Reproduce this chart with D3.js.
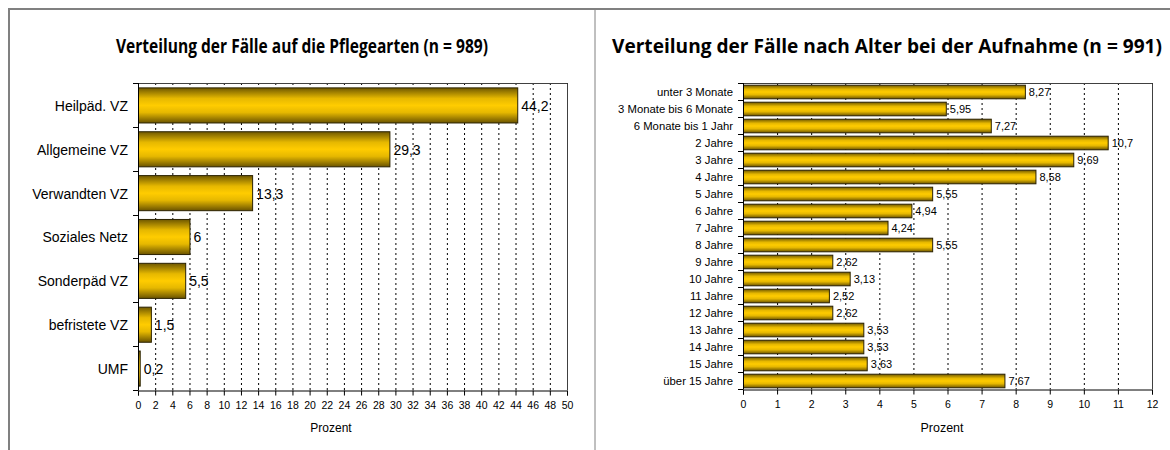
<!DOCTYPE html>
<html>
<head>
<meta charset="utf-8">
<script src="https://cdn.jsdelivr.net/npm/d3@7"></script>
<style>
  body { margin: 0; background: #fff; }
  svg { display: block; }
  text { font-family: "Liberation Sans", Arial, sans-serif; fill: #000; }
  .title { font-family: "Open Sans", "Noto Sans", sans-serif; font-weight: bold; }
</style>
</head>
<body>
<svg width="1170" height="450"></svg>
<script>
// Pflegearten
const careTypes = ['Heilpäd. VZ', 'Allgemeine VZ', 'Verwandten VZ', 'Soziales Netz', 'Sonderpäd VZ', 'befristete VZ', 'UMF'];
const careShares = [44.2, 29.3, 13.3, 6, 5.5, 1.5, 0.2];
const careTicks = d3.range(0, 51, 2);

// Alter bei Aufnahme
const ageGroups = ['unter 3 Monate', '3 Monate bis 6 Monate', '6 Monate bis 1 Jahr', '2 Jahre', '3 Jahre', '4 Jahre',
    '5 Jahre', '6 Jahre', '7 Jahre', '8 Jahre', '9 Jahre', '10 Jahre', '11 Jahre', '12 Jahre', '13 Jahre',
    '14 Jahre', '15 Jahre', 'über 15 Jahre'];
const ageShares = [8.27, 5.95, 7.27, 10.7, 9.69, 8.58, 5.55, 4.94, 4.24, 5.55, 2.62, 3.13, 2.52, 2.62, 3.53, 3.53, 3.63, 7.67];
const ageTicks = d3.range(0, 13, 1);

const svg = d3.select('svg');

// gold bar gradient
const grad = svg.append('defs').append('linearGradient')
    .attr('id', 'gold')
    .attr('x1', 0).attr('y1', 0).attr('x2', 0).attr('y2', 1);
[[0, '#6f5800'], [0.3, '#e6b800'], [0.5, '#ffcc00'], [0.7, '#e6b800'], [1, '#6a5300']]
    .forEach(([o, c]) => grad.append('stop').attr('offset', o).attr('stop-color', c));

// panel frames
svg.append('line').attr('x1', 8).attr('x2', 1170).attr('y1', 9).attr('y2', 9)
    .attr('stroke', '#808080').attr('stroke-width', 2);
svg.append('line').attr('x1', 9).attr('x2', 9).attr('y1', 8).attr('y2', 450)
    .attr('stroke', '#808080').attr('stroke-width', 2);
svg.append('line').attr('x1', 595).attr('x2', 595).attr('y1', 9).attr('y2', 450)
    .attr('stroke', '#808080').attr('stroke-width', 1);

const fmt = v => String(v).replace('.', ',');

function drawChart(opts) {
    const { cats, vals, ticks, left, right, top, bottom, max, title, titleX, titleW,
        catSize, tickSize, valSize, labelSize, labelX } = opts;

    const x = d3.scaleLinear().domain([0, max]).range([left, right]);
    const y = d3.scaleBand().domain(cats).range([top, bottom]).paddingInner(0.2).paddingOuter(0.1);

    svg.append('text').attr('class', 'title')
        .attr('x', titleX).attr('y', 53)
        .attr('text-anchor', 'middle')
        .attr('font-size', 19)
        .attr('textLength', titleW).attr('lengthAdjust', 'spacingAndGlyphs')
        .text(title);

    const g = svg.append('g');

    // dotted grid
    g.selectAll('.grid').data(ticks.slice(1)).enter().append('line')
        .attr('x1', d => x(d) + 0.5).attr('x2', d => x(d) + 0.5)
        .attr('y1', top).attr('y2', bottom)
        .attr('stroke', '#000').attr('stroke-width', 1)
        .attr('stroke-dasharray', '2,3');

    // plot area border top / right
    g.append('path')
        .attr('d', `M${left},${top + 0.5}H${right + 0.5}V${bottom}`)
        .attr('fill', 'none').attr('stroke', '#404040');

    // bars
    g.selectAll('.bar').data(vals).enter().append('rect')
        .attr('x', x(0) + 0.5)
        .attr('y', (d, i) => y(cats[i]) + 0.5)
        .attr('width', d => Math.max(1, x(d) - x(0)))
        .attr('height', y.bandwidth())
        .attr('fill', 'url(#gold)')
        .attr('stroke', '#2b2200').attr('stroke-width', 1);

    // value labels
    g.selectAll('.val').data(vals).enter().append('text')
        .attr('x', d => x(d) + 4)
        .attr('y', (d, i) => y(cats[i]) + y.bandwidth() / 2 + 1)
        .attr('dy', '0.35em')
        .attr('font-size', valSize)
        .text(d => fmt(d));

    // x axis
    const xAxis = g.append('g')
        .attr('transform', `translate(0,${bottom + 0.5})`)
        .call(d3.axisBottom(x).tickValues(ticks).tickSize(5).tickPadding(6).tickFormat(d => d));
    xAxis.select('.domain').attr('stroke', '#000');
    xAxis.selectAll('line').attr('stroke', '#000');
    xAxis.selectAll('text').attr('font-size', tickSize);

    // y axis: category ticks between bands
    const bounds = cats.map(c => y(c) - y.step() * y.paddingInner() / 2).concat([bottom]);
    g.selectAll('.ytick').data(bounds).enter().append('line')
        .attr('x1', left - 5).attr('x2', left)
        .attr('y1', d => Math.round(d) + 0.5).attr('y2', d => Math.round(d) + 0.5)
        .attr('stroke', '#000');
    g.append('line').attr('x1', left + 0.5).attr('x2', left + 0.5)
        .attr('y1', top).attr('y2', bottom + 0.5).attr('stroke', '#000');

    g.selectAll('.cat').data(cats).enter().append('text')
        .attr('x', left - 10)
        .attr('y', c => y(c) + y.bandwidth() / 2 + 1)
        .attr('dy', '0.35em')
        .attr('text-anchor', 'end')
        .attr('font-size', catSize)
        .text(c => c);

    svg.append('text')
        .attr('x', labelX).attr('y', 432)
        .attr('text-anchor', 'middle')
        .attr('font-size', labelSize)
        .text('Prozent');
}

drawChart({
    cats: careTypes, vals: careShares, ticks: careTicks, max: 50,
    left: 138, right: 567, top: 83, bottom: 390,
    title: 'Verteilung der Fälle auf die Pflegearten (n = 989)', titleX: 302, titleW: 372,
    catSize: 14, tickSize: 10.5, valSize: 14, labelSize: 12, labelX: 331
});

drawChart({
    cats: ageGroups, vals: ageShares, ticks: ageTicks, max: 12,
    left: 743, right: 1152, top: 83, bottom: 389,
    title: 'Verteilung der Fälle nach Alter bei der Aufnahme (n = 991)', titleX: 887, titleW: 550,
    catSize: 11.3, tickSize: 10.5, valSize: 11, labelSize: 12.5, labelX: 942
});
</script>
</body>
</html>
